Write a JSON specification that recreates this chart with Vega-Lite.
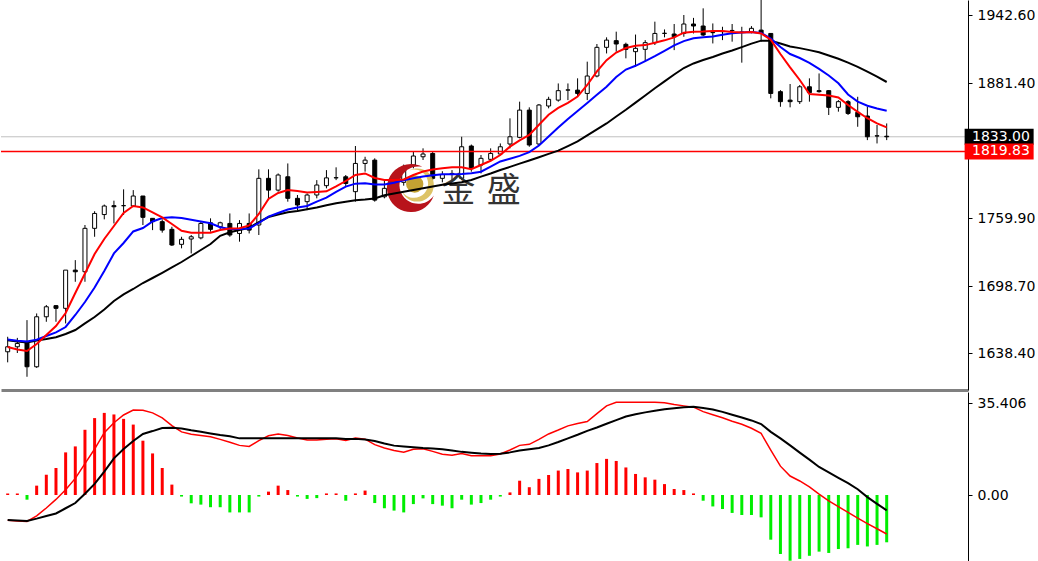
{
  "$schema": "https://vega.github.io/schema/vega-lite/v6.json",
  "padding": 0,
  "spacing": 2,
  "background": "white",
  "config": {
    "view": {"stroke": null},
    "axisY": {"domainColor": "black", "domainWidth": 1, "tickColor": "black", "tickSize": 4, "labelColor": "black", "labelFont": "DejaVu Sans", "labelFontSize": 14, "labelPadding": 5, "grid": false, "labelBaseline": "middle", "labelAlign": "left", "labelFlush": false, "labelOverlap": false, "labelBound": false},
    "axisX": {"domainColor": "#808080", "domainWidth": 3, "ticks": false, "labels": false, "grid": false}
  },
  "datasets": {
    "bars": [
      {"i":0,"o":1639.5,"h":1653,"l":1630,"c":1644,"r":1643.8,"b":1650.5,"k":1649.9,"hist":0.6,"m":-9.7,"s":-9.6},
      {"i":1,"o":1644,"h":1652,"l":1638.4,"c":1647,"r":1641.6,"b":1649.5,"k":1648.7,"hist":0.6,"m":-10,"s":-9.8},
      {"i":2,"o":1648,"h":1668,"l":1617,"c":1626,"r":1640.2,"b":1648.7,"k":1647.8,"hist":-1.8,"m":-10.2,"s":-10},
      {"i":3,"o":1626,"h":1674,"l":1625,"c":1671,"r":1646.5,"b":1650.3,"k":1649.7,"hist":3.6,"m":-8,"s":-9.1},
      {"i":4,"o":1671,"h":1681.6,"l":1666.5,"c":1680,"r":1654.6,"b":1653.7,"k":1651,"hist":7.8,"m":-5,"s":-8.1},
      {"i":5,"o":1681,"h":1681.5,"l":1666.5,"c":1678.6,"r":1662.7,"b":1656.9,"k":1652.6,"hist":10.4,"m":-1.7,"s":-7.1},
      {"i":6,"o":1678.6,"h":1713,"l":1665,"c":1713,"r":1674.4,"b":1661.8,"k":1655.5,"hist":16.4,"m":2,"s":-5.1},
      {"i":7,"o":1713,"h":1722,"l":1702.5,"c":1711.5,"r":1692.4,"b":1672.6,"k":1659.1,"hist":18.7,"m":6.4,"s":-3.1},
      {"i":8,"o":1711.5,"h":1753.6,"l":1702.5,"c":1750.6,"r":1710,"b":1684.3,"k":1665,"hist":25.1,"m":12.1,"s":0.5},
      {"i":9,"o":1750.6,"h":1766,"l":1743,"c":1764,"r":1727.5,"b":1697.4,"k":1670.8,"hist":29.6,"m":17.7,"s":4.3},
      {"i":10,"o":1763,"h":1772,"l":1758.7,"c":1770.7,"r":1741,"b":1712.2,"k":1677.6,"hist":31.6,"m":24,"s":9},
      {"i":11,"o":1771,"h":1775.5,"l":1755,"c":1770,"r":1752.7,"b":1728,"k":1685.2,"hist":31,"m":27.8,"s":14.1},
      {"i":12,"o":1771,"h":1785.7,"l":1762.6,"c":1771,"r":1764.4,"b":1737.4,"k":1691.2,"hist":29.3,"m":30.8,"s":17.7},
      {"i":13,"o":1770.7,"h":1785,"l":1770,"c":1779.7,"r":1770.7,"b":1747.8,"k":1696,"hist":27.1,"m":32.7,"s":20.8},
      {"i":14,"o":1779.7,"h":1779.7,"l":1753.6,"c":1760.5,"r":1769.4,"b":1750.9,"k":1701.4,"hist":20.9,"m":32.6,"s":23.5},
      {"i":15,"o":1759.6,"h":1759.6,"l":1749,"c":1756.6,"r":1764.9,"b":1756.8,"k":1705.9,"hist":16,"m":31.6,"s":24.6},
      {"i":16,"o":1756.6,"h":1758.7,"l":1746.7,"c":1749,"r":1760.4,"b":1759.9,"k":1710.6,"hist":10.4,"m":29.7,"s":25.8},
      {"i":17,"o":1749.7,"h":1752,"l":1734.7,"c":1735.6,"r":1754.5,"b":1760.5,"k":1715.4,"hist":4,"m":26.7,"s":25.9},
      {"i":18,"o":1736.2,"h":1743,"l":1732.6,"c":1740.7,"r":1748.4,"b":1759.8,"k":1720.3,"hist":-0.6,"m":24.3,"s":25.6},
      {"i":19,"o":1741,"h":1744.6,"l":1728,"c":1743,"r":1746.7,"b":1758.4,"k":1725.7,"hist":-3.2,"m":23.4,"s":24.9},
      {"i":20,"o":1742,"h":1756.6,"l":1740.7,"c":1755,"r":1746.7,"b":1756.8,"k":1731.1,"hist":-3.7,"m":22.9,"s":24.3},
      {"i":21,"o":1755.6,"h":1759.6,"l":1747.6,"c":1749.7,"r":1746.7,"b":1755.1,"k":1736.5,"hist":-4.7,"m":22.4,"s":23.7},
      {"i":22,"o":1752,"h":1756.6,"l":1749.7,"c":1755.6,"r":1749.1,"b":1751.6,"k":1743.9,"hist":-4.7,"m":21.4,"s":23.1},
      {"i":23,"o":1755,"h":1764,"l":1743,"c":1744.6,"r":1750.5,"b":1750,"k":1747,"hist":-6.7,"m":20.3,"s":22.6},
      {"i":24,"o":1746,"h":1758,"l":1738.6,"c":1755,"r":1750.6,"b":1749.9,"k":1749.1,"hist":-6.7,"m":19.1,"s":21.8},
      {"i":25,"o":1755,"h":1764,"l":1746,"c":1749,"r":1753.2,"b":1750.5,"k":1751.1,"hist":-6.7,"m":18.7,"s":21.8},
      {"i":26,"o":1753.6,"h":1803.7,"l":1744.6,"c":1795.6,"r":1763.5,"b":1755.4,"k":1756.3,"hist":-0.6,"m":20.9,"s":21.8},
      {"i":27,"o":1795.6,"h":1803.7,"l":1776,"c":1785,"r":1777,"b":1761.2,"k":1760.8,"hist":1.3,"m":22.8,"s":21.8},
      {"i":28,"o":1785,"h":1800,"l":1783.6,"c":1798.6,"r":1782.4,"b":1764.4,"k":1763,"hist":3.6,"m":23.5,"s":21.8},
      {"i":29,"o":1797,"h":1809,"l":1774.6,"c":1777.6,"r":1785.1,"b":1767.5,"k":1765,"hist":1.9,"m":22.9,"s":21.8},
      {"i":30,"o":1777.6,"h":1780.6,"l":1767,"c":1771.6,"r":1784.2,"b":1769.4,"k":1766.2,"hist":-0.6,"m":21.9,"s":21.8},
      {"i":31,"o":1774.6,"h":1782,"l":1767,"c":1780.6,"r":1782.8,"b":1770.7,"k":1767.8,"hist":-1.5,"m":21.2,"s":21.8},
      {"i":32,"o":1780.6,"h":1794,"l":1777.6,"c":1789.6,"r":1783.3,"b":1774.7,"k":1769.3,"hist":-1.2,"m":21.2,"s":21.8},
      {"i":33,"o":1789,"h":1803,"l":1786.6,"c":1796,"r":1783.9,"b":1778.3,"k":1771.4,"hist":0.6,"m":21.5,"s":21.8},
      {"i":34,"o":1796,"h":1805.5,"l":1794,"c":1796.2,"r":1788.3,"b":1783.5,"k":1773.2,"hist":0.6,"m":21.6,"s":21.8},
      {"i":35,"o":1797,"h":1798.6,"l":1788,"c":1791,"r":1793.2,"b":1788.1,"k":1774.6,"hist":-2.2,"m":21,"s":21.6},
      {"i":36,"o":1783.6,"h":1824.7,"l":1774.6,"c":1809,"r":1798.6,"b":1790.8,"k":1775.8,"hist":0.6,"m":21.9,"s":21.6},
      {"i":37,"o":1809,"h":1815,"l":1801.6,"c":1812,"r":1800,"b":1791.1,"k":1776.5,"hist":1.7,"m":21.5,"s":21.4},
      {"i":38,"o":1812,"h":1813.6,"l":1774.6,"c":1776,"r":1795.9,"b":1790.1,"k":1777.5,"hist":-3.1,"m":19.4,"s":20.8},
      {"i":39,"o":1779,"h":1794,"l":1777.6,"c":1786.6,"r":1794.1,"b":1790,"k":1780.4,"hist":-5.1,"m":18.1,"s":19.8},
      {"i":40,"o":1786.6,"h":1796,"l":1782,"c":1792,"r":1794.1,"b":1791.7,"k":1782,"hist":-6,"m":17.1,"s":19},
      {"i":41,"o":1792,"h":1808,"l":1789,"c":1805,"r":1794.6,"b":1793.8,"k":1783.6,"hist":-6.7,"m":16.5,"s":18.7},
      {"i":42,"o":1807.6,"h":1819.6,"l":1804.6,"c":1815.7,"r":1798.6,"b":1795.7,"k":1785.1,"hist":-3.5,"m":17.6,"s":18.4},
      {"i":43,"o":1815,"h":1822.6,"l":1812.1,"c":1817.5,"r":1801.8,"b":1797.3,"k":1786.6,"hist":-1.3,"m":17.8,"s":18.1},
      {"i":44,"o":1818,"h":1820,"l":1794,"c":1795.6,"r":1803.6,"b":1798.3,"k":1788.2,"hist":-3.5,"m":16.8,"s":17.9},
      {"i":45,"o":1795.6,"h":1802,"l":1792,"c":1799,"r":1804.7,"b":1799.2,"k":1789.9,"hist":-4.1,"m":15.7,"s":17.6},
      {"i":46,"o":1799,"h":1803,"l":1794,"c":1800,"r":1805.5,"b":1799.2,"k":1790.9,"hist":-5.1,"m":15.3,"s":17.1},
      {"i":47,"o":1795.6,"h":1833,"l":1794,"c":1824,"r":1805.5,"b":1799.4,"k":1792,"hist":-1.8,"m":16,"s":16.6},
      {"i":48,"o":1824.7,"h":1826,"l":1801.6,"c":1804.6,"r":1803.8,"b":1800.1,"k":1794.1,"hist":-3.7,"m":15.1,"s":16.3},
      {"i":49,"o":1807.6,"h":1816.6,"l":1800,"c":1813.6,"r":1807.6,"b":1801.6,"k":1797.1,"hist":-3.1,"m":15.1,"s":16},
      {"i":50,"o":1812.7,"h":1822.6,"l":1811.8,"c":1818,"r":1811.4,"b":1806.2,"k":1799.9,"hist":-1.8,"m":15.1,"s":15.8},
      {"i":51,"o":1817.5,"h":1827,"l":1816.6,"c":1824,"r":1816.6,"b":1810.8,"k":1803.1,"hist":-0.6,"m":15.8,"s":15.9},
      {"i":52,"o":1826.5,"h":1849.6,"l":1822.6,"c":1833,"r":1824.1,"b":1813.3,"k":1805.9,"hist":1,"m":17.3,"s":16.4},
      {"i":53,"o":1832.5,"h":1864.6,"l":1831.6,"c":1857,"r":1829.8,"b":1815.8,"k":1808.8,"hist":5.5,"m":19.1,"s":17.1},
      {"i":54,"o":1857,"h":1859.5,"l":1824,"c":1825.6,"r":1834.6,"b":1819.2,"k":1811.7,"hist":3,"m":19.5,"s":17.6},
      {"i":55,"o":1826.5,"h":1862.5,"l":1825.6,"c":1861.6,"r":1843.8,"b":1825.1,"k":1814.6,"hist":6.2,"m":21.4,"s":18.1},
      {"i":56,"o":1860.7,"h":1869,"l":1858.6,"c":1866.7,"r":1852.8,"b":1833.3,"k":1817.6,"hist":7.7,"m":23.5,"s":19.1},
      {"i":57,"o":1866,"h":1881,"l":1864.6,"c":1874.5,"r":1859,"b":1841.3,"k":1820.5,"hist":9.4,"m":25,"s":20.4},
      {"i":58,"o":1875,"h":1881,"l":1866,"c":1875.2,"r":1863.6,"b":1849,"k":1824.6,"hist":10,"m":26.6,"s":21.8},
      {"i":59,"o":1875,"h":1885.6,"l":1869,"c":1872,"r":1869.2,"b":1856.2,"k":1828.9,"hist":8.7,"m":27.5,"s":23.2},
      {"i":60,"o":1872,"h":1900.6,"l":1866,"c":1887.7,"r":1879.6,"b":1863.4,"k":1834.2,"hist":9.4,"m":28.3,"s":24.7},
      {"i":61,"o":1887.7,"h":1916.5,"l":1886.5,"c":1913.5,"r":1891.8,"b":1870.8,"k":1839.6,"hist":12.3,"m":31.3,"s":26},
      {"i":62,"o":1913.5,"h":1922.5,"l":1908,"c":1920,"r":1901.9,"b":1878,"k":1845,"hist":13.9,"m":34.3,"s":27.4},
      {"i":63,"o":1919.5,"h":1927.6,"l":1909.6,"c":1916.5,"r":1908.8,"b":1886.8,"k":1851.2,"hist":13.1,"m":35.7,"s":28.8},
      {"i":64,"o":1916.2,"h":1917.7,"l":1903.6,"c":1911.7,"r":1912.9,"b":1893.5,"k":1857.3,"hist":10.6,"m":35.7,"s":30.2},
      {"i":65,"o":1909.6,"h":1925,"l":1896,"c":1912.6,"r":1914.9,"b":1896.9,"k":1863.7,"hist":8.1,"m":35.7,"s":31.1},
      {"i":66,"o":1911.7,"h":1920,"l":1900.6,"c":1917.7,"r":1915.5,"b":1901.1,"k":1870.2,"hist":6.8,"m":35.7,"s":31.8},
      {"i":67,"o":1917.7,"h":1936.6,"l":1915.6,"c":1926,"r":1917.6,"b":1905.5,"k":1876.7,"hist":5.9,"m":35.7,"s":32.4},
      {"i":68,"o":1926,"h":1929.6,"l":1922.5,"c":1926.2,"r":1919.8,"b":1910.3,"k":1882.9,"hist":4.2,"m":35.5,"s":33},
      {"i":69,"o":1925.5,"h":1934.5,"l":1911,"c":1923,"r":1922.5,"b":1915.3,"k":1889,"hist":2.3,"m":34.8,"s":33.4},
      {"i":70,"o":1926,"h":1942.6,"l":1923,"c":1934.5,"r":1926.7,"b":1919.1,"k":1894.9,"hist":1.9,"m":34.3,"s":33.8},
      {"i":71,"o":1934.5,"h":1940,"l":1926,"c":1932.7,"r":1927.6,"b":1921.6,"k":1899,"hist":0.6,"m":33.8,"s":34},
      {"i":72,"o":1932.7,"h":1948.6,"l":1923.7,"c":1924.6,"r":1927.8,"b":1922.5,"k":1902.1,"hist":-2.2,"m":32.1,"s":33.5},
      {"i":73,"o":1926.7,"h":1935,"l":1917,"c":1926.9,"r":1928.2,"b":1923.2,"k":1904.8,"hist":-4.4,"m":30.9,"s":32.9},
      {"i":74,"o":1927.6,"h":1932,"l":1920,"c":1927.8,"r":1928.3,"b":1924.8,"k":1908,"hist":-5.4,"m":29.7,"s":32},
      {"i":75,"o":1928.5,"h":1934.5,"l":1918.6,"c":1928.7,"r":1927.3,"b":1926.2,"k":1910.7,"hist":-6.9,"m":28.4,"s":30.9},
      {"i":76,"o":1927,"h":1932,"l":1899.7,"c":1927.2,"r":1926.9,"b":1926.8,"k":1913.7,"hist":-7.7,"m":27.2,"s":29.8},
      {"i":77,"o":1927.6,"h":1932.6,"l":1926.1,"c":1930.6,"r":1927.2,"b":1927.3,"k":1916.8,"hist":-7.7,"m":25.7,"s":28.7},
      {"i":78,"o":1929,"h":1960,"l":1918.6,"c":1926,"r":1926,"b":1926.5,"k":1919.5,"hist":-8.6,"m":23.7,"s":27.3},
      {"i":79,"o":1926,"h":1926,"l":1867.6,"c":1872,"r":1920.3,"b":1921.3,"k":1919.5,"hist":-17.2,"m":17.3,"s":24.3},
      {"i":80,"o":1873.6,"h":1875,"l":1860,"c":1864.6,"r":1907.5,"b":1913.8,"k":1916.9,"hist":-22.7,"m":11.1,"s":21.8},
      {"i":81,"o":1866,"h":1880.5,"l":1859.5,"c":1864.6,"r":1895.5,"b":1907.5,"k":1914.2,"hist":-25.3,"m":7.3,"s":19.1},
      {"i":82,"o":1864.6,"h":1879.6,"l":1862.5,"c":1878,"r":1884.1,"b":1903.9,"k":1912.8,"hist":-24.6,"m":5.4,"s":16.3},
      {"i":83,"o":1878,"h":1885.6,"l":1864.6,"c":1872.7,"r":1871.4,"b":1899.5,"k":1911,"hist":-23.4,"m":3.1,"s":13.6},
      {"i":84,"o":1874.5,"h":1890,"l":1872.7,"c":1873.6,"r":1870.9,"b":1894.1,"k":1909.1,"hist":-21.8,"m":0.3,"s":10.8},
      {"i":85,"o":1874.5,"h":1875,"l":1852.6,"c":1859.5,"r":1870.2,"b":1888.2,"k":1906.2,"hist":-22.3,"m":-2.3,"s":8.7},
      {"i":86,"o":1859.5,"h":1866,"l":1855.6,"c":1864.6,"r":1868.4,"b":1881.1,"k":1903.2,"hist":-20.8,"m":-4.5,"s":6.6},
      {"i":87,"o":1864.6,"h":1866,"l":1852.6,"c":1854,"r":1861.6,"b":1871.1,"k":1899.7,"hist":-20.5,"m":-6.7,"s":4.6},
      {"i":88,"o":1855,"h":1869,"l":1842,"c":1851,"r":1855.4,"b":1864.6,"k":1895.9,"hist":-19.2,"m":-8.9,"s":2.2},
      {"i":89,"o":1851.7,"h":1860,"l":1830,"c":1833,"r":1849.7,"b":1860.9,"k":1891.6,"hist":-19.8,"m":-11,"s":-0.8},
      {"i":90,"o":1833.7,"h":1843.6,"l":1827,"c":1833.9,"r":1845,"b":1858.4,"k":1887.1,"hist":-19.2,"m":-13,"s":-3.4},
      {"i":91,"o":1833.5,"h":1845,"l":1830,"c":1833,"r":1841.4,"b":1856.4,"k":1882.3,"hist":-18.2,"m":-15,"s":-5.9}
    ],
    "tags": [
      {"price": 1833.00, "label": "1833.00", "kind": "bid"},
      {"price": 1819.83, "label": "1819.83", "kind": "line"}
    ]
  },
  "vconcat": [
    {
      "width": 967,
      "height": 390,
      "layer": [
        {
          "data": {"name": "tags"},
          "transform": [{"filter": "datum.kind == 'bid'"}],
          "mark": {"type": "rule", "color": "#c0c0c0", "strokeWidth": 1},
          "encoding": {
            "y": {"field": "price", "type": "quantitative", "scale": {"domain": [1605.1, 1956.1], "nice": false, "zero": false}, "axis": {"orient": "right", "title": null, "values": [1942.6, 1881.4, 1759.9, 1698.7, 1638.4], "format": ".2f"}}
          }
        },
        {
          "data": {"name": "bars"},
          "mark": {"type": "rule", "color": "black", "strokeWidth": 1, "clip": true},
          "encoding": {
            "x": {"field": "i", "type": "quantitative", "scale": {"domain": [-0.174, 98.9], "nice": false, "zero": false}, "axis": {"title": null, "orient": "bottom"}},
            "y": {"field": "l", "type": "quantitative", "scale": {"domain": [1605.1, 1956.1], "nice": false, "zero": false}, "axis": {"orient": "right", "title": null, "values": [1942.6, 1881.4, 1759.9, 1698.7, 1638.4], "format": ".2f"}},
            "y2": {"field": "h"}
          }
        },
        {
          "data": {"name": "bars"},
          "mark": {"type": "bar", "width": 4, "stroke": "black", "strokeWidth": 1, "clip": true},
          "encoding": {
            "x": {"field": "i", "type": "quantitative", "scale": {"domain": [-0.174, 98.9], "nice": false, "zero": false}, "axis": {"title": null, "orient": "bottom"}},
            "y": {"field": "o", "type": "quantitative", "scale": {"domain": [1605.1, 1956.1], "nice": false, "zero": false}, "axis": {"orient": "right", "title": null, "values": [1942.6, 1881.4, 1759.9, 1698.7, 1638.4], "format": ".2f"}},
            "y2": {"field": "c"},
            "fill": {"condition": {"test": "datum.c >= datum.o", "value": "white"}, "value": "black"}
          }
        },
        {
          "data": {"name": "tags"},
          "transform": [{"filter": "datum.kind == 'line'"}],
          "mark": {"type": "rule", "color": "#ff0000", "strokeWidth": 1.5},
          "encoding": {
            "y": {"field": "price", "type": "quantitative", "scale": {"domain": [1605.1, 1956.1], "nice": false, "zero": false}, "axis": {"orient": "right", "title": null, "values": [1942.6, 1881.4, 1759.9, 1698.7, 1638.4], "format": ".2f"}}
          }
        },
        {
          "data": {"values": [{}]},
          "mark": {"type": "point", "filled": true, "opacity": 1, "color": "#b8131b", "shape": "M0.4746,-0.8803 A1,1 0 1,0 0.9507,0.3101 A0.78,0.78 0 1,1 0.4746,-0.8803 Z", "size": 2304},
          "encoding": {
            "x": {"datum": 41.75, "type": "quantitative"},
            "y": {"datum": 1786.9, "type": "quantitative"}
          }
        },
        {
          "data": {"values": [{}]},
          "mark": {"type": "point", "filled": true, "opacity": 0.9, "color": "#d9bc55", "shape": "M-0.4746,-0.8803 A1,1 0 1,1 -0.9507,0.3101 A0.85,0.85 0 1,0 -0.4746,-0.8803 Z", "size": 1100},
          "encoding": {
            "x": {"datum": 42.4, "type": "quantitative"},
            "y": {"datum": 1789.6, "type": "quantitative"}
          }
        },
        {
          "data": {"values": [{}]},
          "mark": {"type": "point", "filled": true, "opacity": 1, "color": "#c4a232", "shape": "circle", "size": 300},
          "encoding": {
            "x": {"datum": 42.14, "type": "quantitative"},
            "y": {"datum": 1790.5, "type": "quantitative"}
          }
        },
        {
          "data": {"values": [{}]},
          "mark": {"type": "text", "font": "Noto Sans CJK SC", "fontSize": 34, "fontWeight": 400, "color": "#333333", "baseline": "middle", "align": "center", "text": "金"},
          "encoding": {
            "x": {"datum": 46.65, "type": "quantitative"},
            "y": {"datum": 1783.3, "type": "quantitative"}
          }
        },
        {
          "data": {"values": [{}]},
          "mark": {"type": "text", "font": "Noto Sans CJK SC", "fontSize": 34, "fontWeight": 400, "color": "#333333", "baseline": "middle", "align": "center", "text": "盛"},
          "encoding": {
            "x": {"datum": 51.36, "type": "quantitative"},
            "y": {"datum": 1783.3, "type": "quantitative"}
          }
        },
        {
          "data": {"name": "bars"},
          "mark": {"type": "line", "color": "black", "strokeWidth": 2, "clip": true},
          "encoding": {
            "x": {"field": "i", "type": "quantitative"},
            "y": {"field": "k", "type": "quantitative"}
          }
        },
        {
          "data": {"name": "bars"},
          "mark": {"type": "line", "color": "#0000ff", "strokeWidth": 2, "clip": true},
          "encoding": {
            "x": {"field": "i", "type": "quantitative"},
            "y": {"field": "b", "type": "quantitative"}
          }
        },
        {
          "data": {"name": "bars"},
          "mark": {"type": "line", "color": "#ff0000", "strokeWidth": 2, "clip": true},
          "encoding": {
            "x": {"field": "i", "type": "quantitative"},
            "y": {"field": "r", "type": "quantitative"}
          }
        },
        {
          "data": {"name": "tags"},
          "mark": {"type": "point", "filled": true, "opacity": 1, "strokeWidth": 0, "shape": "M-1,-0.232 L1,-0.232 L1,0.232 L-1,0.232 Z", "size": 4761},
          "encoding": {
            "x": {"datum": 102.64, "type": "quantitative"},
            "y": {"field": "price", "type": "quantitative"},
            "color": {"condition": {"test": "datum.kind == 'bid'", "value": "black"}, "value": "#ff0000"}
          }
        },
        {
          "data": {"name": "tags"},
          "mark": {"type": "text", "font": "DejaVu Sans", "fontSize": 14, "color": "white", "align": "left", "baseline": "middle"},
          "encoding": {
            "x": {"datum": 99.83, "type": "quantitative"},
            "y": {"field": "price", "type": "quantitative"},
            "text": {"field": "label"}
          }
        }
      ]
    },
    {
      "width": 967,
      "height": 169,
      "data": {"name": "bars"},
      "layer": [
        {
          "mark": {"type": "bar", "width": 3},
          "encoding": {
            "x": {"field": "i", "type": "quantitative", "scale": {"domain": [-0.174, 98.9], "nice": false, "zero": false}, "axis": null},
            "y": {"field": "hist", "type": "quantitative", "scale": {"domain": [-25.4, 39.64], "nice": false, "zero": false}, "axis": {"orient": "right", "title": null, "values": [35.406, 0], "labelExpr": "datum.value == 0 ? '0.00' : format(datum.value, '.3f')"}},
            "y2": {"datum": 0},
            "color": {"condition": {"test": "datum.hist >= 0", "value": "#ff0000"}, "value": "#00ee00"}
          }
        },
        {
          "mark": {"type": "line", "color": "#ff0000", "strokeWidth": 1.5},
          "encoding": {
            "x": {"field": "i", "type": "quantitative", "axis": null},
            "y": {"field": "m", "type": "quantitative"}
          }
        },
        {
          "mark": {"type": "line", "color": "black", "strokeWidth": 2},
          "encoding": {
            "x": {"field": "i", "type": "quantitative", "axis": null},
            "y": {"field": "s", "type": "quantitative"}
          }
        }
      ]
    }
  ]
}
